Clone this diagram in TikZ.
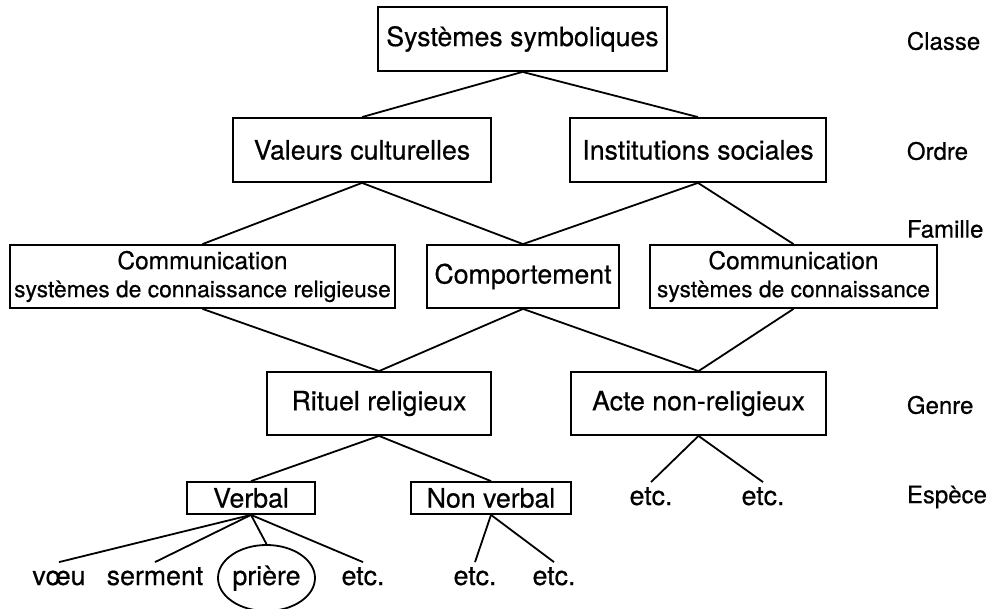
\documentclass[tikz,border=0pt]{standalone}
\usepackage{fontspec}
\setmainfont{TeX Gyre Heros}[FakeBold=0.5]
\usetikzlibrary{shapes.geometric}

\begin{document}
\begin{tikzpicture}[x=1pt,y=-1pt,line width=1.8pt,
  box/.style={draw,inner sep=0pt,align=center,font=\fontsize{26.7}{30}\selectfont},
  smallbox/.style={box,font=\fontsize{22.8}{28}\selectfont},
  leaf/.style={inner sep=3pt,text height=19pt,text depth=5pt,font=\fontsize{26.7}{30}\selectfont},
  lvl/.style={anchor=west,inner sep=0pt,font=\fontsize{24}{28}\selectfont}]
\useasboundingbox (0,0) rectangle (992,609);
% niveaux
\foreach \y/\ytext in {41/Classe, 151/Ordre, 229/Famille, 405/Genre, 497/Espèce}
  \node[lvl] (lvl\y) at (906,\y) {\ytext};
% boites
\node[box,minimum width=289,minimum height=64] (sys) at (522.5,39) {Systèmes symboliques};
\node[box,minimum width=258,minimum height=64] (val) at (362,150) {Valeurs culturelles};
\node[box,minimum width=256,minimum height=64] (inst) at (698,150) {Institutions sociales};
\node[smallbox,minimum width=385,minimum height=63] (comL) at (202.5,276.5) {{\fontsize{24.5}{28}\selectfont Communication}\\systèmes de connaissance religieuse};
\node[box,minimum width=192,minimum height=63] (comp) at (523,276.5) {Comportement};
\node[smallbox,minimum width=287,minimum height=63] (comR) at (793.5,276.5) {{\fontsize{24.5}{28}\selectfont Communication}\\systèmes de connaissance};
\node[box,minimum width=224,minimum height=63] (rit) at (379,403.5) {Rituel religieux};
\node[box,minimum width=255,minimum height=63] (acte) at (698.5,403.5) {Acte non-religieux};
\node[box,minimum width=128,minimum height=32] (verb) at (251,498) {Verbal};
\node[box,minimum width=160,minimum height=32] (nonv) at (491,498) {Non verbal};
% feuilles
\node[leaf] (etcA) at (651,498) {etc.};
\node[leaf] (etcB) at (763,498) {etc.};
\node[leaf] (voeu) at (59,578) {vœu};
\node[leaf] (serm) at (155,578) {serment};
\node[leaf,draw,ellipse,inner sep=0pt,minimum width=97,minimum height=66] (priere) at (266.5,578) {prière};
\node[leaf] (etcC) at (363,578) {etc.};
\node[leaf] (etcD) at (475,578) {etc.};
\node[leaf] (etcE) at (554,578) {etc.};
% liens
\foreach \a/\b in {sys/val,sys/inst,val/comL,val/comp,inst/comp,inst/comR,
    comL/rit,comp/rit,comp/acte,comR/acte,rit/verb,rit/nonv,acte/etcA,acte/etcB,
    verb/voeu,verb/serm,verb/priere,verb/etcC,nonv/etcD,nonv/etcE}
  \draw (\a.south) -- (\b.north);
\end{tikzpicture}
\end{document}
